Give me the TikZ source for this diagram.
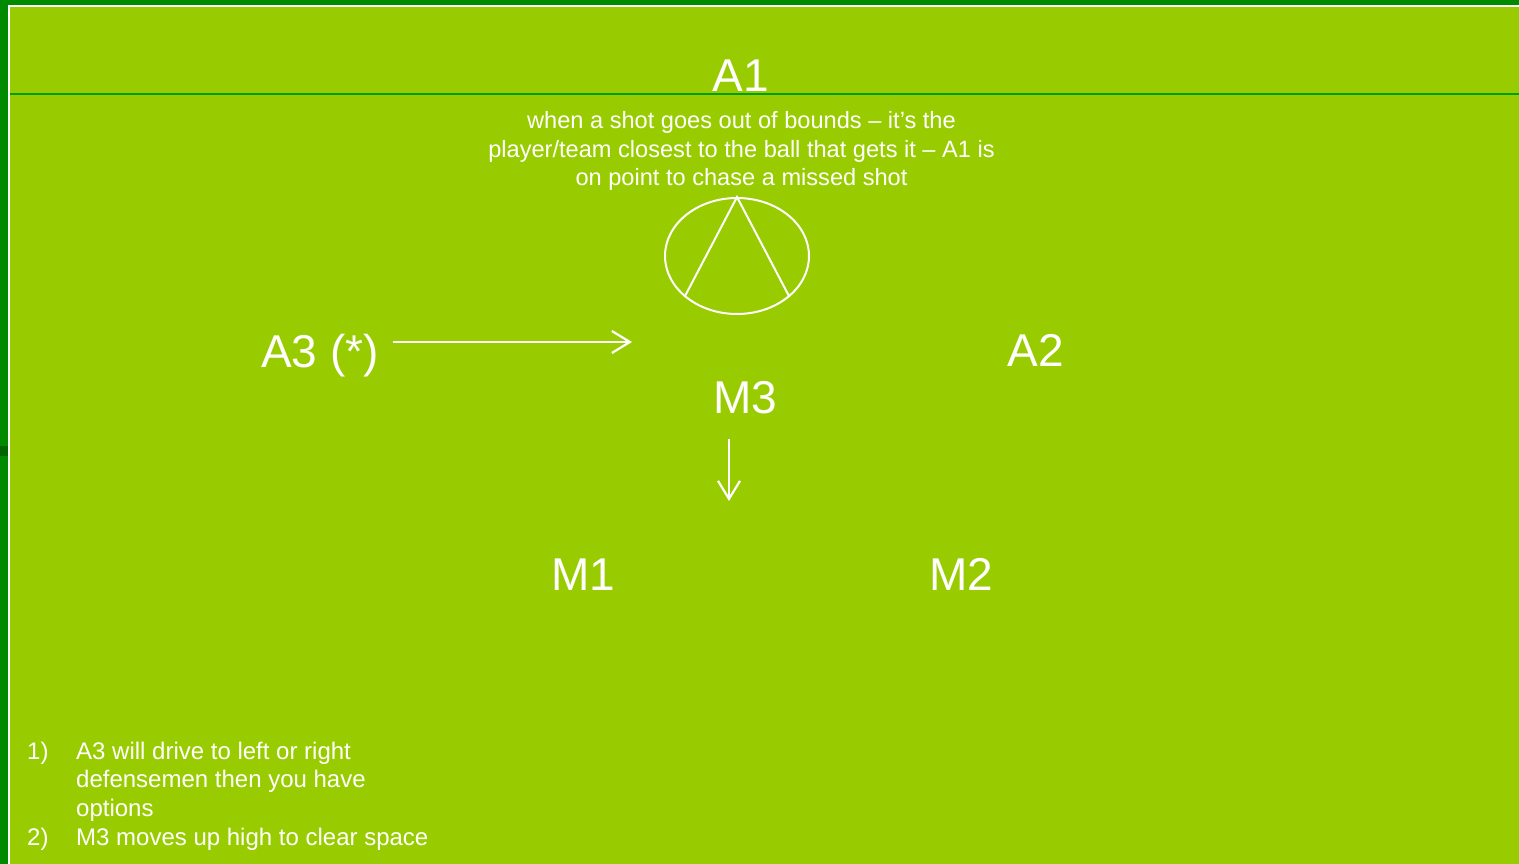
\documentclass[tikz,border=0pt]{standalone}
\usepackage{fontspec}
\setmainfont{Liberation Sans}
\usetikzlibrary{arrows.meta,shapes.geometric}
\definecolor{fieldgreen}{RGB}{153,204,0}
\definecolor{edgegreen}{RGB}{0,138,0}
\definecolor{markgreen}{RGB}{0,100,0}
\definecolor{linegreen}{RGB}{0,160,0}
\begin{document}
\begin{tikzpicture}[x=1pt,y=-1pt,
  player/.style={text=white,inner sep=0pt,anchor=base,font=\fontsize{46}{46}\selectfont},
  note/.style={text=white,inner sep=0pt,font=\fontsize{24}{28.7}\selectfont},
  move/.style={white,line width=2.2pt,-{Straight Barb[length=18pt,width=22pt]}}]
  \useasboundingbox (0,0) rectangle (1519,864);
  \fill[edgegreen] (0,0) rectangle (1519,864);
  \fill[markgreen] (0,446) rectangle (8,456);
  \fill[white] (8,5) rectangle (1519,864);
  \fill[fieldgreen] (10,7) rectangle (1519,864);

  \node[player] (a1) at (741,92) {A1};
  \draw[linegreen,line width=1.3pt] (10,94) -- (1519,94);
  \node[note,font=\fontsize{23.6}{28.5}\selectfont,align=center,anchor=north] (rule) at (741.5,111.5)
    {when a shot goes out of bounds – it’s the\\player/team closest to the ball that gets it – A1 is\\on point to chase a missed shot};

  \node[draw=white,line width=2pt,ellipse,minimum width=144pt,minimum height=116pt,inner sep=0pt] (goal) at (737,256) {};
  \draw[white,line width=2pt] (goal.218) -- (goal.north) -- (goal.322);

  \node[player] (a3) at (320,367) {A3 (*)};
  \node[player] (a2) at (1036,366) {A2};
  \node[player] (m3) at (745,413) {M3};
  \node[player] (m1) at (583,590) {M1};
  \node[player] (m2) at (961,590) {M2};

  \coordinate (a3to) at (632,342);
  \coordinate (m3to) at (729,501);
  \draw[move,shorten <=14pt] (a3.east |- a3to) -- (a3to);
  \draw[move,shorten <=25pt] (m3.south -| m3to) -- (m3to);

  \node[note,anchor=base west] (n1) at (27,759) {1)};
  \node[note,anchor=north west,align=left] (i1) at (76,741.5)
    {A3 will drive to left or right\\defensemen then you have\\options};
  \node[note,anchor=base west] (n2) at (27,845) {2)};
  \node[note,anchor=base west] (i2) at (76,845) {M3 moves up high to clear space};
\end{tikzpicture}
\end{document}
